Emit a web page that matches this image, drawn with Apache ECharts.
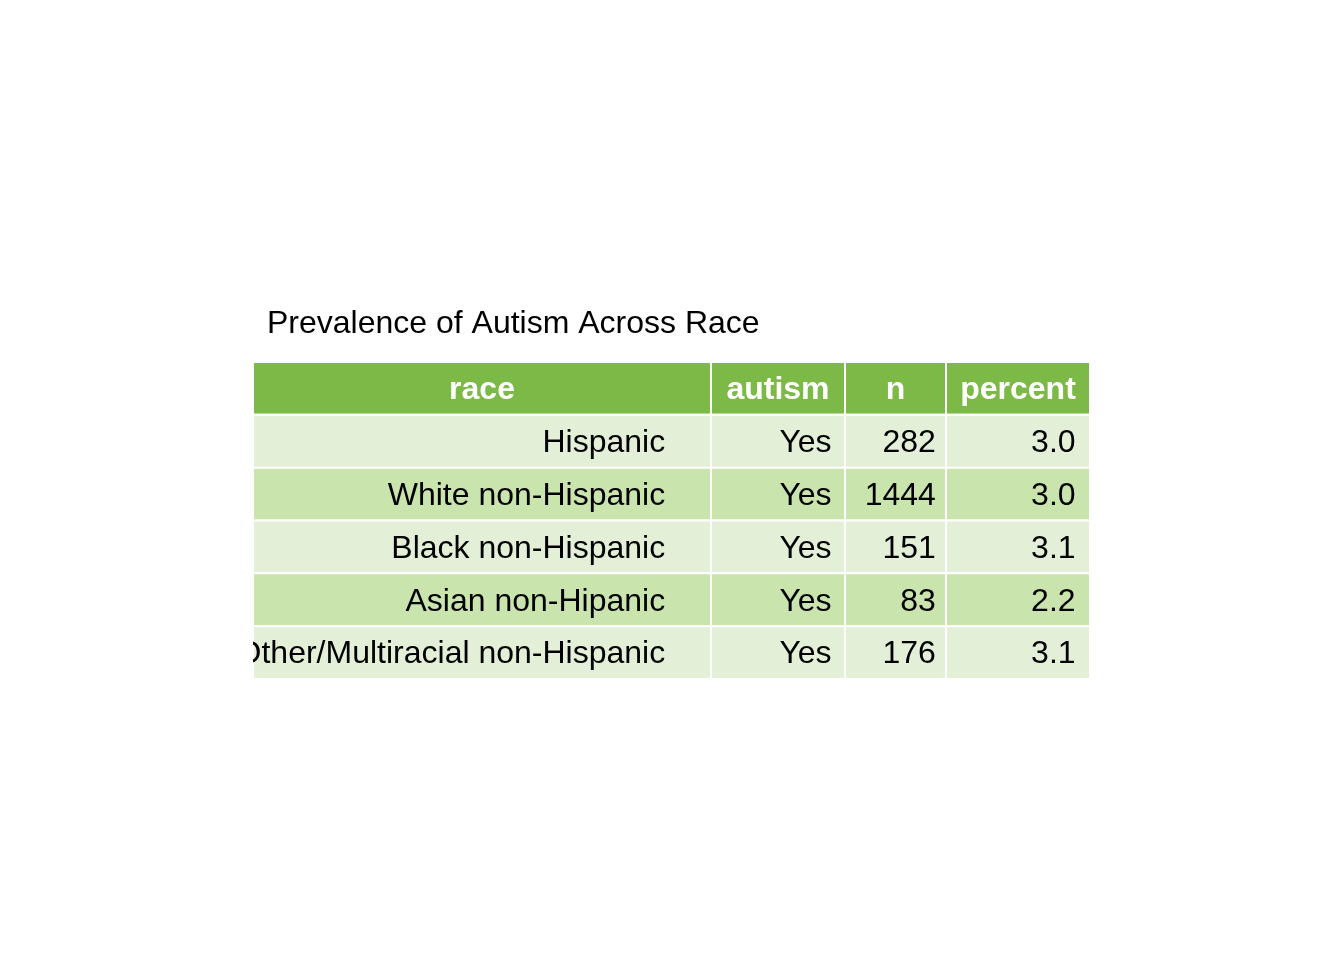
<!DOCTYPE html>
<html>
<head>
<meta charset="utf-8">
<script src="https://cdn.jsdelivr.net/npm/echarts@6/dist/echarts.min.js"></script>
<style>
html,body{margin:0;padding:0;background:#fff;}
#chart{width:1344px;height:960px;}
</style>
</head>
<body>
<div id="chart"></div>
<script>
// ---- data ----
const titleText = "Prevalence of Autism Across Race";
const headers = ["race", "autism", "n", "percent"];
const races = ["Hispanic", "White non-Hispanic", "Black non-Hispanic", "Asian non-Hipanic", "Other/Multiracial non-Hispanic"];
const autism = ["Yes", "Yes", "Yes", "Yes", "Yes"];
const nValues = [282, 1444, 151, 83, 176];
const percents = [3.0, 3.0, 3.1, 2.2, 3.1];

// ---- layout (column edges in table units) ----
const colEdges = [0, 458, 592, 693, 837];
const headerColor = "#7CB946";
const lightRow = "#E3F0D7";
const darkRow = "#CAE4AE";

// build cells
const rowLabels = ["__header__"].concat(races);
const cells = [];
headers.forEach((h, c) => cells.push([c, 0, h]));
races.forEach((r, i) => {
  const vals = [r, autism[i], String(nValues[i]), percents[i].toFixed(1)];
  vals.forEach((v, c) => cells.push([c, i + 1, v]));
});

const chart = echarts.init(document.getElementById('chart'));
chart.setOption({
  animation: false,
  backgroundColor: '#ffffff',
  title: {
    text: titleText,
    left: 262,
    top: 303,
    textStyle: { fontFamily: 'Liberation Sans, Arial, sans-serif', fontSize: 32, fontWeight: 'normal', color: '#000' }
  },
  grid: { left: 253, right: 254, top: 362, bottom: 281 },
  xAxis: { type: 'value', min: 0, max: colEdges[colEdges.length - 1], show: false },
  yAxis: { type: 'category', data: rowLabels, inverse: true, show: false },
  series: [{
    type: 'custom',
    clip: true,
    data: cells,
    encode: { x: 0, y: 1 },
    renderItem: function (params, api) {
      const c = api.value(0);
      const r = api.value(1);
      const text = cells[params.dataIndex][2];
      const p0 = api.coord([colEdges[c], r]);
      const p1 = api.coord([colEdges[c + 1], r]);
      const h = api.size([0, 1])[1];
      const x0 = p0[0], x1 = p1[0], yc = p0[1];
      const w = x1 - x0;
      const isHeader = r === 0;
      const fill = isHeader ? headerColor : (r % 2 === 1 ? lightRow : darkRow);
      return {
        type: 'group',
        children: [
          {
            type: 'rect',
            shape: { x: x0, y: yc - h / 2, width: w, height: h },
            style: { fill: fill, stroke: '#ffffff', lineWidth: 2 }
          },
          {
            type: 'text',
            x: isHeader ? x0 + w / 2 : x0 + w * 0.9,
            y: yc + 2,
            style: {
              text: text,
              align: isHeader ? 'center' : 'right',
              verticalAlign: 'middle',
              fontFamily: 'Liberation Sans, Arial, sans-serif',
              fontSize: 32,
              fontWeight: isHeader ? 'bold' : 'normal',
              fill: isHeader ? '#ffffff' : '#000000'
            }
          }
        ]
      };
    }
  }]
});
</script>
</body>
</html>
